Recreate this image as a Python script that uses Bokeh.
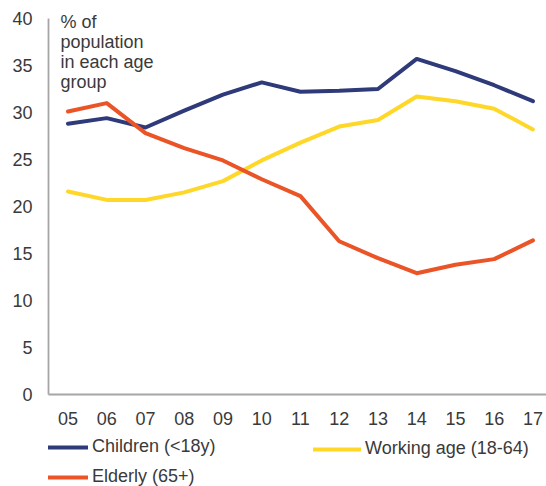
from bokeh.plotting import figure
from bokeh.layouts import column
from bokeh.models import Range1d, FixedTicker, Legend, LegendItem, Label
from bokeh.embed import file_html
from bokeh.resources import INLINE

years = ["05", "06", "07", "08", "09", "10", "11", "12", "13", "14", "15", "16", "17"]
children = [28.8, 29.4, 28.4, 30.2, 31.9, 33.2, 32.2, 32.3, 32.5, 35.7, 34.4, 32.9, 31.2]
working = [21.6, 20.7, 20.7, 21.5, 22.7, 24.9, 26.8, 28.5, 29.2, 31.7, 31.2, 30.4, 28.2]
elderly = [30.1, 31.0, 27.8, 26.2, 24.9, 22.9, 21.1, 16.3, 14.5, 12.9, 13.8, 14.4, 16.4]
y_ticks = [0, 5, 10, 15, 20, 25, 30, 35, 40]
y_title = "% of\npopulation\nin each age\ngroup"
series_names = ["Children (<18y)", "Working age (18-64)", "Elderly (65+)"]
series_colors = ["#2e3a7a", "#ffd728", "#ea5426"]
series_values = [children, working, elderly]

FONT = "Liberation Sans"
TXT = "#3a3a3a"
AX = "#a6a6a6"
FS = "18px"

xs = list(range(len(years)))

p = figure(width=546, height=434, output_backend="svg", toolbar_location=None,
           x_range=Range1d(-0.503, 12.35), y_range=Range1d(0, 40.85),
           min_border_left=48, min_border_right=0, min_border_top=10,
           min_border_bottom=40, outline_line_color=None)
p.grid.visible = False

for vals, col in zip(series_values, series_colors):
    p.line(xs, vals, line_color=col, line_width=4, line_cap="round", line_join="round")

for ax in (p.xaxis[0], p.yaxis[0]):
    ax.axis_line_color = AX
    ax.axis_line_width = 1.8
    ax.major_tick_line_color = None
    ax.minor_tick_line_color = None
    ax.major_label_text_font = FONT
    ax.major_label_text_font_size = FS
    ax.major_label_text_color = TXT

p.xaxis[0].ticker = FixedTicker(ticks=xs)
p.xaxis[0].major_label_overrides = {i: y for i, y in enumerate(years)}
p.xaxis[0].major_label_standoff = 11
p.yaxis[0].ticker = FixedTicker(ticks=y_ticks)
p.yaxis[0].major_label_standoff = 10
p.yaxis[0].bounds = (y_ticks[0], y_ticks[-1])

title = Label(x=12, y=383, x_units="screen", y_units="screen", text=y_title,
              text_font=FONT, text_font_size=FS, text_color=TXT,
              text_baseline="top", text_align="left", text_line_height=1.0)
p.add_layout(title)

# legend strip below the chart (its frame is aligned with the chart's frame)
q = figure(width=546, height=52, output_backend="svg", toolbar_location=None,
           x_range=Range1d(0, 1), y_range=Range1d(0, 1),
           x_axis_location=None, y_axis_location=None,
           min_border=0, outline_line_color=None)
q.grid.visible = False
swatches = [q.line(xs, vals, line_color=c, line_width=4, line_cap="round")
            for vals, c in zip(series_values, series_colors)]

common = dict(padding=0, margin=0, glyph_height=18,
              label_height=18, label_standoff=4, label_text_font=FONT,
              label_text_font_size=FS, label_text_color=TXT,
              background_fill_alpha=0, border_line_color=None)
lg1 = Legend(items=[LegendItem(label=series_names[0], renderers=[swatches[0]]),
                    LegendItem(label=series_names[2], renderers=[swatches[2]])],
             location=(0, -1), orientation="vertical", spacing=9, glyph_width=40, **common)
lg2 = Legend(items=[LegendItem(label=series_names[1], renderers=[swatches[1]])],
             location=(265, 27), orientation="vertical", spacing=9, glyph_width=48, **common)
q.add_layout(lg1)
q.add_layout(lg2)

layout = column(p, q, spacing=0)
open("out.html", "w").write(file_html(layout, INLINE))
